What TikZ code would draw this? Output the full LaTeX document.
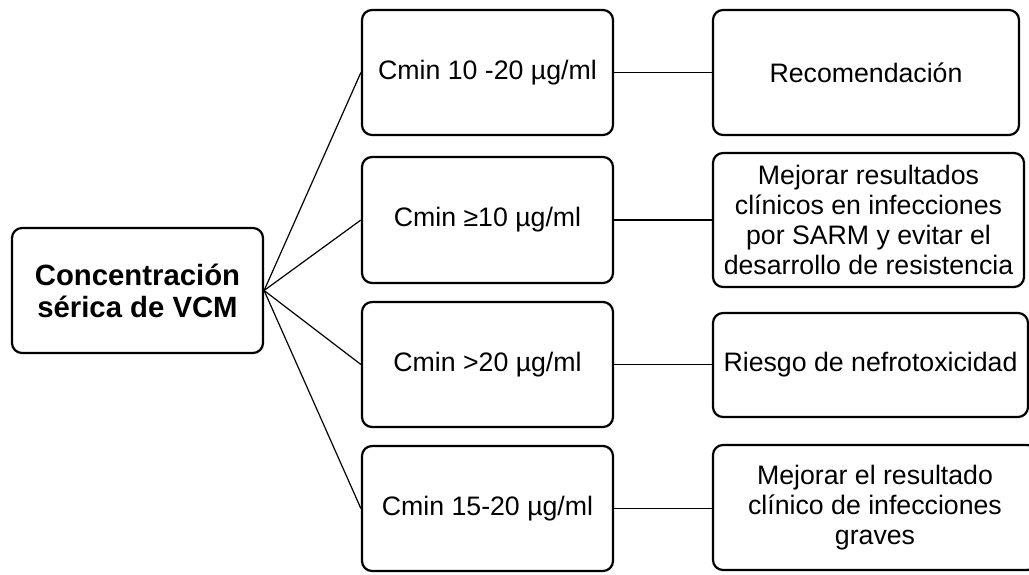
\documentclass[tikz,border=0pt]{standalone}
\usepackage{fontspec}
\setmainfont{Liberation Sans}
\begin{document}
\begin{tikzpicture}[x=1pt,y=-1pt,
  box/.style={draw, line width=2.2pt, rounded corners=10pt, align=center,
    inner sep=0pt, font=\fontsize{26.7}{29.8}\selectfont},
  rootbox/.style={box, font=\fontsize{29.3}{32}\selectfont\bfseries},
  link/.style={line width=1.2pt}]
\useasboundingbox (0,0) rectangle (1029,575);
% root
\node[rootbox, minimum width=251pt, minimum height=125pt] (root) at (137.5,290.5)
  {Concentración\\sérica de VCM};
% middle column
\node[box, minimum width=251pt, minimum height=125pt] (m1) at (487.5,72.5) {Cmin 10 -20 µg/ml};
\node[box, minimum width=251pt, minimum height=126pt] (m2) at (487.5,220) {Cmin ≥10 µg/ml};
\node[box, minimum width=251pt, minimum height=125pt] (m3) at (487.5,364.5) {Cmin >20 µg/ml};
\node[box, minimum width=251pt, minimum height=125pt] (m4) at (487.5,508.5) {Cmin 15-20 µg/ml};
% right column
\node[box, minimum width=306pt, minimum height=125pt] (r1) at (866,72.5) {Recomendación};
\node[box, minimum width=311pt, minimum height=134pt] (r2) at (868.5,220)
  {Mejorar resultados\\clínicos en infecciones\\por SARM y evitar el\\desarrollo de resistencia};
\node[box, minimum width=315pt, minimum height=104pt] (r3) at (870.5,365) {Riesgo de nefrotoxicidad};
\node[box, minimum width=324pt, minimum height=125pt] (r4) at (875,507.5)
  {Mejorar el resultado\\clínico de infecciones\\graves};
% connectors
\foreach \m in {m1,m2,m3,m4} \draw[link] (root.east) -- (\m.west);
\draw[link] (m1.east) -- (r1.west);
\draw[link] (m2.east) -- (r2.west);
\draw[link] (m3.east) -- (r3.west |- m3.east);
\draw[link] (m4.east) -- (r4.west |- m4.east);
\end{tikzpicture}
\end{document}
